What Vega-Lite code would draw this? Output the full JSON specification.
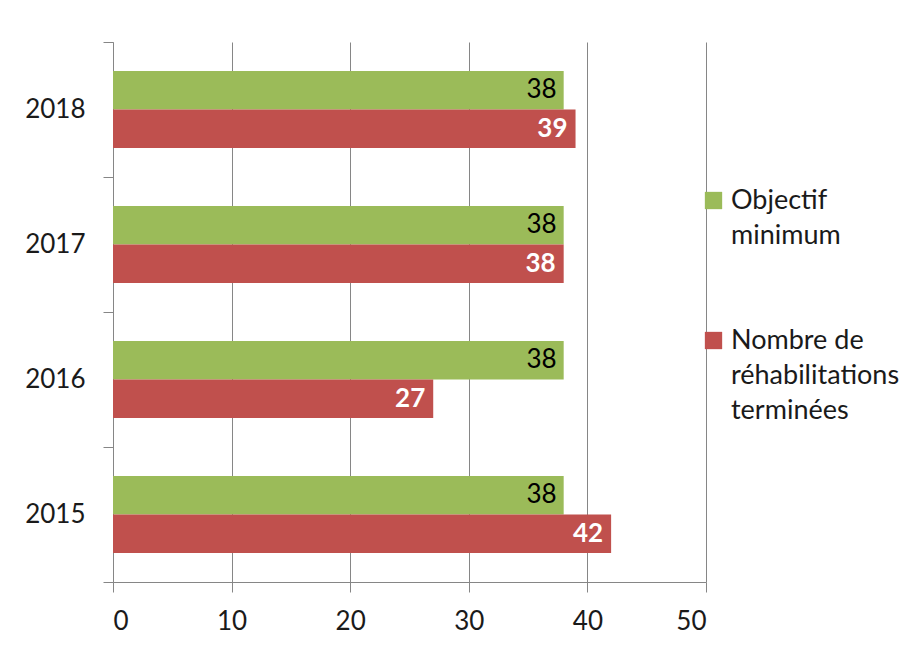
{
  "$schema": "https://vega.github.io/schema/vega-lite/v6.json",
  "width": 593,
  "height": 540,
  "autosize": {"type": "none"},
  "padding": {"left": 113, "top": 42, "right": 200, "bottom": 71},
  "background": "white",
  "config": {
    "font": "Lato",
    "view": {"stroke": null},
    "style": {"guide-label": {"lineHeight": 35}}
  },
  "data": {
    "values": [
      {"year": "2018", "series": "Objectif minimum", "value": 38},
      {"year": "2018", "series": "Nombre de réhabilitations terminées", "value": 39},
      {"year": "2017", "series": "Objectif minimum", "value": 38},
      {"year": "2017", "series": "Nombre de réhabilitations terminées", "value": 38},
      {"year": "2016", "series": "Objectif minimum", "value": 38},
      {"year": "2016", "series": "Nombre de réhabilitations terminées", "value": 27},
      {"year": "2015", "series": "Objectif minimum", "value": 38},
      {"year": "2015", "series": "Nombre de réhabilitations terminées", "value": 42}
    ]
  },
  "encoding": {
    "y": {
      "field": "year",
      "type": "nominal",
      "sort": ["2018", "2017", "2016", "2015"],
      "scale": {"paddingInner": 0, "paddingOuter": 0},
      "axis": {
        "title": null,
        "tickBand": "extent",
        "tickSize": 10,
        "tickColor": "#868686",
        "domainColor": "#868686",
        "labelPadding": 18,
        "labelFontSize": 26,
        "labelColor": "#1a1a1a",
        "grid": false
      }
    },
    "yOffset": {
      "field": "series",
      "sort": ["Objectif minimum", "Nombre de réhabilitations terminées"],
      "scale": {"paddingInner": 0, "paddingOuter": 0.753}
    },
    "x": {
      "field": "value",
      "type": "quantitative",
      "scale": {"domain": [0, 50], "nice": false},
      "axis": {
        "title": null,
        "values": [0, 10, 20, 30, 40, 50],
        "grid": true,
        "gridColor": "#868686",
        "gridOpacity": 1,
        "tickColor": "#868686",
        "domainColor": "#868686",
        "tickSize": 10,
        "labelPadding": 16,
        "labelFontSize": 26,
        "labelColor": "#1a1a1a"
      }
    }
  },
  "layer": [
    {
      "mark": {"type": "bar"},
      "encoding": {
        "color": {
          "field": "series",
          "type": "nominal",
          "scale": {
            "domain": ["Objectif minimum", "Nombre de réhabilitations terminées"],
            "range": ["#9BBB59", "#C0504D"]
          },
          "legend": {
            "title": null,
            "orient": "none",
            "legendX": 587,
            "legendY": 145,
            "symbolType": "square",
            "symbolSize": 300,
            "symbolStrokeWidth": 0,
            "labelFontSize": 27,
            "labelColor": "#1a1a1a",
            "labelOffset": 4,
            "labelLimit": 400,
            "rowPadding": 77,
            "labelExpr": "datum.label == 'Objectif minimum' ? ['Objectif', 'minimum'] : ['Nombre de', 'réhabilitations', 'terminées']"
          }
        }
      }
    },
    {
      "transform": [{"filter": "datum.series == 'Objectif minimum'"}],
      "mark": {"type": "text", "align": "right", "baseline": "middle", "dx": -7, "fontSize": 26, "color": "#000000"},
      "encoding": {"text": {"field": "value", "type": "quantitative"}}
    },
    {
      "transform": [{"filter": "datum.series != 'Objectif minimum'"}],
      "mark": {"type": "text", "align": "right", "baseline": "middle", "dx": -8, "fontSize": 26, "fontWeight": "bold", "color": "#ffffff"},
      "encoding": {"text": {"field": "value", "type": "quantitative"}}
    }
  ]
}
